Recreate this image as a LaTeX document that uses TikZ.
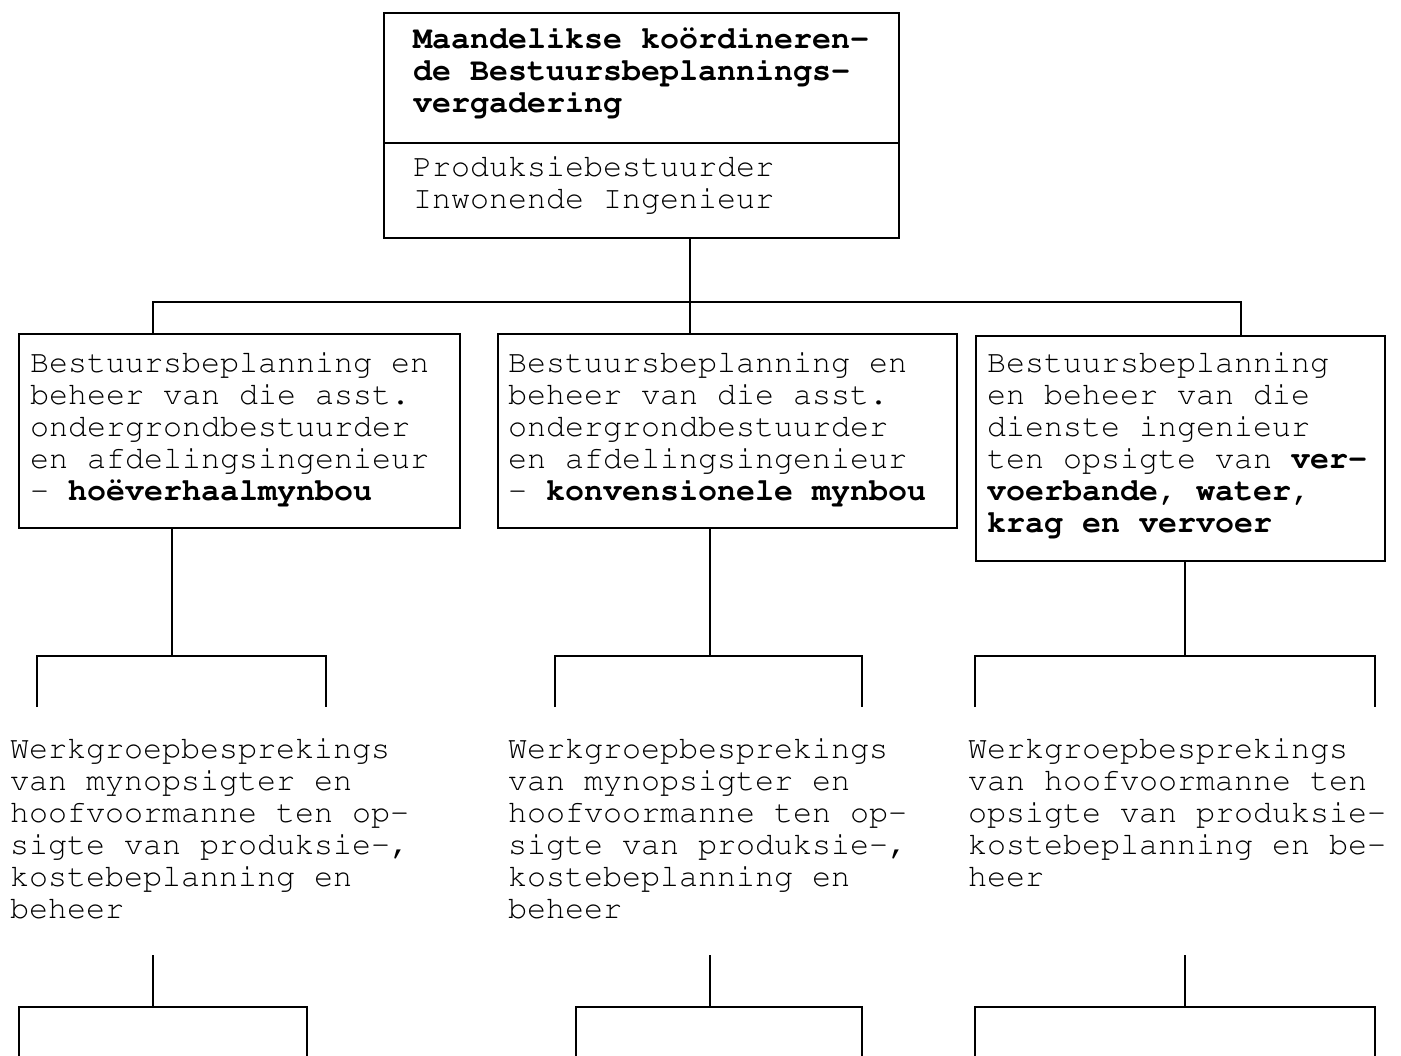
\documentclass[tikz,border=0pt]{standalone}
\usepackage[T1]{fontenc}
\usepackage{courier}
\renewcommand\familydefault{\ttdefault}
\newcommand\tw{\fontsize{31.67}{32}\selectfont}
\newcommand\fstrut{\rule{0pt}{24pt}}
\begin{document}
\begin{tikzpicture}[x=1pt,y=-1pt,
  line width=2.2pt,
  box/.style={draw, line width=2.2pt, inner sep=0pt, anchor=north west},
  txt/.style={anchor=north west, inner sep=0pt, align=left, font=\tw},
  btxt/.style={txt, font=\tw\bfseries}]
\useasboundingbox (0,0) rectangle (1401,1056);

% boxes
\node[box, minimum width=515pt, minimum height=130pt] (top1) at (383,12) {};
\node[box, minimum width=515pt, minimum height=95pt] (top2) at (383,142) {};
\node[box, minimum width=441pt, minimum height=194pt] (b1) at (18,333) {};
\node[box, minimum width=459pt, minimum height=194pt] (b2) at (497,333) {};
\node[box, minimum width=409pt, minimum height=225pt] (b3) at (975,335) {};

% texts
\node[btxt] (t0a) at (412,23) {\fstrut Maandelikse ko\"ordineren-\\de Bestuursbeplannings-\\vergadering};
\node[txt] (t0b) at (412,151) {\fstrut Produksiebestuurder\\Inwonende Ingenieur};
\node[txt] (t1) at (29,347) {\fstrut Bestuursbeplanning en\\beheer van die asst.\\ondergrondbestuurder\\en afdelingsingenieur\\- \textbf{ho\"everhaalmynbou}};
\node[txt] (t2) at (507,347) {\fstrut Bestuursbeplanning en\\beheer van die asst.\\ondergrondbestuurder\\en afdelingsingenieur\\- \textbf{konvensionele mynbou}};
\node[txt] (t3) at (986,347) {\fstrut Bestuursbeplanning\\en beheer van die\\dienste ingenieur\\ten opsigte van \textbf{ver-}\\\textbf{voerbande, water,}\\\textbf{krag en vervoer}};
\node[txt] (w1) at (9,733) {\fstrut Werkgroepbesprekings\\van mynopsigter en\\hoofvoormanne ten op-\\sigte van produksie-,\\kostebeplanning en\\beheer};
\node[txt] (w2) at (507,733) {\fstrut Werkgroepbesprekings\\van mynopsigter en\\hoofvoormanne ten op-\\sigte van produksie-,\\kostebeplanning en\\beheer};
\node[txt] (w3) at (967,733) {\fstrut Werkgroepbesprekings\\van hoofvoormanne ten\\opsigte van produksie-\\kostebeplanning en be-\\heer};

% level 1 -> 2
\coordinate (hub) at (690,302);
\coordinate (busL) at (153,302);
\coordinate (busR) at (1241,302);
\draw (top2.south -| hub) -- (b2.north -| hub);
\draw (b1.north -| busL) -- (busL) -- (busR) -- (b3.north -| busR);

% level 2 -> 3 brackets
\coordinate (j1) at (172,656); \coordinate (j1l) at (37,656); \coordinate (j1r) at (326,656);
\coordinate (e1l) at (37,707); \coordinate (e1r) at (326,707);
\draw (b1.south -| j1) -- (j1);
\draw (e1l) -- (j1l) -- (j1r) -- (e1r);

\coordinate (j2) at (710,656); \coordinate (j2l) at (555,656); \coordinate (j2r) at (862,656);
\coordinate (e2l) at (555,707); \coordinate (e2r) at (862,707);
\draw (b2.south -| j2) -- (j2);
\draw (e2l) -- (j2l) -- (j2r) -- (e2r);

\coordinate (j3) at (1185,656); \coordinate (j3l) at (975,656); \coordinate (j3r) at (1375,656);
\coordinate (e3l) at (975,707); \coordinate (e3r) at (1375,707);
\draw (b3.south -| j3) -- (j3);
\draw (e3l) -- (j3l) -- (j3r) -- (e3r);

% level 4 -> 5 brackets
\coordinate (s1) at (153,955); \coordinate (k1) at (153,1007); \coordinate (k1l) at (19,1007); \coordinate (k1r) at (307,1007);
\coordinate (f1l) at (19,1060); \coordinate (f1r) at (307,1060);
\draw (s1) -- (k1);
\draw (f1l) -- (k1l) -- (k1r) -- (f1r);

\coordinate (s2) at (710,955); \coordinate (k2) at (710,1007); \coordinate (k2l) at (576,1007); \coordinate (k2r) at (862,1007);
\coordinate (f2l) at (576,1060); \coordinate (f2r) at (862,1060);
\draw (s2) -- (k2);
\draw (f2l) -- (k2l) -- (k2r) -- (f2r);

\coordinate (s3) at (1185,955); \coordinate (k3) at (1185,1007); \coordinate (k3l) at (975,1007); \coordinate (k3r) at (1375,1007);
\coordinate (f3l) at (975,1060); \coordinate (f3r) at (1375,1060);
\draw (s3) -- (k3);
\draw (f3l) -- (k3l) -- (k3r) -- (f3r);
\end{tikzpicture}
\end{document}
